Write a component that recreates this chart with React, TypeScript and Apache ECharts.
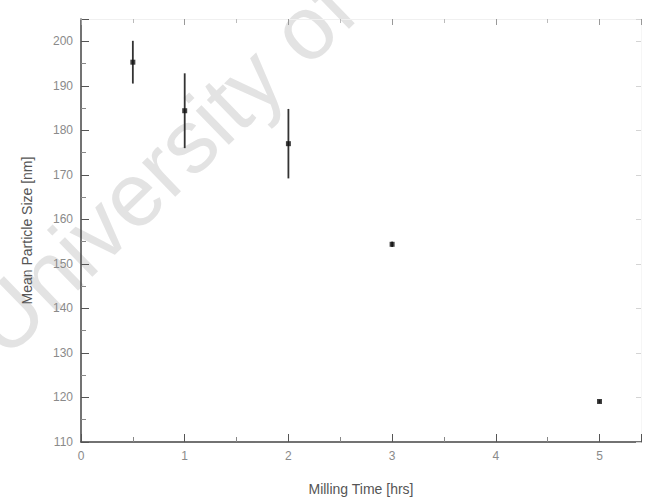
import React, { useEffect, useRef } from "react";
import * as echarts from "echarts";

// Milling time (hrs) and mean particle size (nm) with ± spread
const millingHours = [0.5, 1, 2, 3, 5];
const meanSize = [195.3, 184.4, 177.0, 154.4, 119.1];
const sizeError = [4.8, 8.4, 7.8, 0.6, 0.4];

const xTicks = { min: 0, max: 5.4, interval: 1 };
const yTicks = { min: 110, max: 205, interval: 10 };

const FONT = "'Liberation Sans', Arial, sans-serif";

export default function App() {
  const ref = useRef<HTMLDivElement>(null);

  useEffect(() => {
    if (!ref.current) return;
    const chart = echarts.init(ref.current, undefined, { renderer: "svg" });

    const points = millingHours.map((x, i) => [x, meanSize[i]]);
    const bars = millingHours.map((x, i) => [
      x,
      meanSize[i] - sizeError[i],
      meanSize[i] + sizeError[i],
    ]);

    const axisCommon = {
      type: "value" as const,
      splitLine: { show: false },
    };

    chart.setOption({
      animation: false,
      backgroundColor: "#ffffff",
      textStyle: { fontFamily: FONT },
      graphic: [
        {
          type: "text",
          x: 15,
          y: 371,
          rotation: (44 * Math.PI) / 180,
          z: -10,
          silent: true,
          style: {
            text: "University of Malaya",
            fill: "#e3e3e3",
            font: `90px ${FONT}`,
            textAlign: "left",
            textVerticalAlign: "bottom",
          },
        },
      ],
      grid: { left: 81, right: 5, top: 19, bottom: 59, containLabel: false },
      xAxis: [
        {
          ...axisCommon,
          position: "bottom",
          min: xTicks.min,
          max: xTicks.max,
          interval: xTicks.interval,
          name: "Milling Time [hrs]",
          nameLocation: "middle",
          nameGap: 40,
          nameTextStyle: { color: "#555", fontSize: 14, fontFamily: FONT },
          axisLine: { show: true, onZero: false, lineStyle: { color: "#444", width: 1.5 } },
          axisTick: { show: true, inside: true, length: 8, lineStyle: { color: "#555" } },
          minorTick: { show: true, splitNumber: 2, length: 5, lineStyle: { color: "#888" } },
          axisLabel: {
            color: "#8a8a8a",
            fontSize: 12,
            margin: 8,
            showMaxLabel: false,
            fontFamily: FONT,
          },
        },
        {
          ...axisCommon,
          position: "top",
          min: xTicks.min,
          max: xTicks.max,
          interval: xTicks.interval,
          axisLine: { show: true, onZero: false, lineStyle: { color: "#f0f0f0", width: 1 } },
          axisTick: { show: true, inside: true, length: 6, lineStyle: { color: "#999" } },
          minorTick: { show: true, splitNumber: 2, length: 4, lineStyle: { color: "#bbb" } },
          axisLabel: { show: false },
        },
      ],
      yAxis: [
        {
          ...axisCommon,
          position: "left",
          min: yTicks.min,
          max: yTicks.max,
          interval: yTicks.interval,
          name: "Mean Particle Size [nm]",
          nameLocation: "middle",
          nameGap: 47,
          nameTextStyle: { color: "#555", fontSize: 14, fontFamily: FONT },
          axisLine: { show: true, onZero: false, lineStyle: { color: "#444", width: 1.5 } },
          axisTick: { show: true, inside: true, length: 8, lineStyle: { color: "#555" } },
          minorTick: { show: true, splitNumber: 2, length: 5, lineStyle: { color: "#888" } },
          axisLabel: {
            color: "#8a8a8a",
            fontSize: 12,
            margin: 8,
            showMaxLabel: false,
            fontFamily: FONT,
          },
        },
        {
          ...axisCommon,
          position: "right",
          min: yTicks.min,
          max: yTicks.max,
          interval: yTicks.interval,
          axisLine: { show: true, onZero: false, lineStyle: { color: "#f6f6f6", width: 1 } },
          axisTick: { show: true, inside: true, length: 5, lineStyle: { color: "#d4d4d4" } },
          axisLabel: { show: false },
        },
      ],
      series: [
        {
          type: "custom",
          xAxisIndex: 0,
          yAxisIndex: 0,
          data: bars,
          silent: true,
          z: 2,
          renderItem: (_params: any, api: any) => {
            const x = api.value(0);
            const lo = api.coord([x, api.value(1)]);
            const hi = api.coord([x, api.value(2)]);
            return {
              type: "line",
              shape: { x1: lo[0], y1: lo[1], x2: hi[0], y2: hi[1] },
              style: { stroke: "#333", lineWidth: 1.8 },
            };
          },
        },
        {
          type: "scatter",
          xAxisIndex: 0,
          yAxisIndex: 0,
          data: points,
          symbol: "rect",
          symbolSize: 5,
          itemStyle: { color: "#111" },
          z: 3,
        },
      ],
    });

    return () => chart.dispose();
  }, []);

  return (
    <div
      ref={ref}
      style={{ position: "fixed", left: 0, top: 0, width: 646, height: 501, background: "#fff" }}
    />
  );
}
